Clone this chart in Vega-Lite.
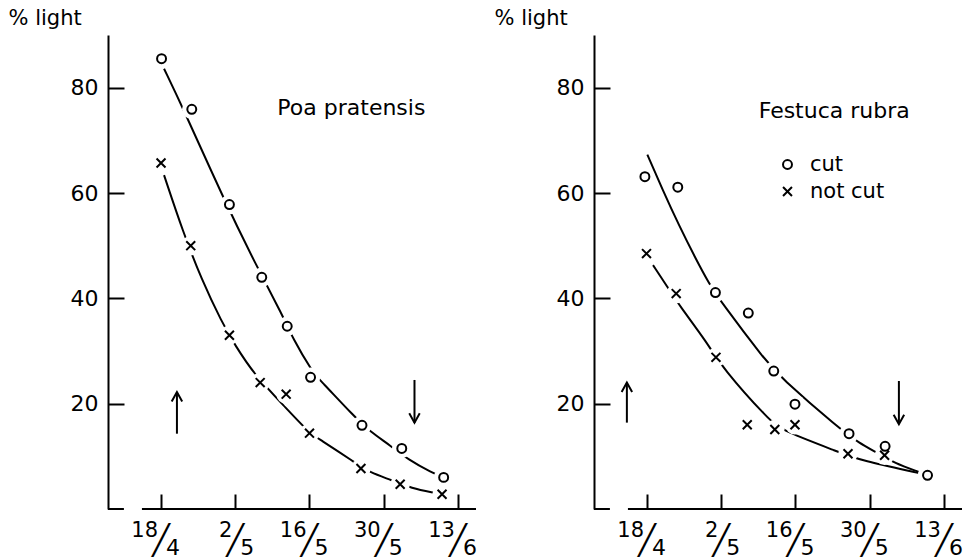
{
  "$schema": "https://vega.github.io/schema/vega-lite/v6.json",
  "autosize": {"type": "none"},
  "padding": {"left": 108, "top": 35, "right": 864, "bottom": 525},
  "background": "white",
  "config": {
    "font": "DejaVu Sans",
    "view": {"stroke": null},
    "axis": {"grid": false, "domainColor": "black", "domainWidth": 2, "tickColor": "black", "tickWidth": 2, "labelColor": "black", "labelFontSize": 22, "titleColor": "black", "titleFontWeight": "normal", "titleFontSize": 21}
  },
  "bounds": "flush",
  "spacing": 118,
  "datasets": {
    "points": [
      {"panel": "Poa pratensis", "treatment": "cut", "day": 0.1, "light": 85.5},
      {"panel": "Poa pratensis", "treatment": "cut", "day": 5.8, "light": 75.9},
      {"panel": "Poa pratensis", "treatment": "cut", "day": 12.9, "light": 57.8},
      {"panel": "Poa pratensis", "treatment": "cut", "day": 19.0, "light": 44.0},
      {"panel": "Poa pratensis", "treatment": "cut", "day": 23.8, "light": 34.7},
      {"panel": "Poa pratensis", "treatment": "cut", "day": 28.2, "light": 25.0},
      {"panel": "Poa pratensis", "treatment": "cut", "day": 37.9, "light": 15.9},
      {"panel": "Poa pratensis", "treatment": "cut", "day": 45.4, "light": 11.5},
      {"panel": "Poa pratensis", "treatment": "cut", "day": 53.3, "light": 6.0},
      {"panel": "Poa pratensis", "treatment": "not cut", "day": 0.0, "light": 65.7},
      {"panel": "Poa pratensis", "treatment": "not cut", "day": 5.6, "light": 50.0},
      {"panel": "Poa pratensis", "treatment": "not cut", "day": 12.9, "light": 33.0},
      {"panel": "Poa pratensis", "treatment": "not cut", "day": 18.7, "light": 24.0},
      {"panel": "Poa pratensis", "treatment": "not cut", "day": 23.6, "light": 21.8},
      {"panel": "Poa pratensis", "treatment": "not cut", "day": 28.0, "light": 14.4},
      {"panel": "Poa pratensis", "treatment": "not cut", "day": 37.7, "light": 7.7},
      {"panel": "Poa pratensis", "treatment": "not cut", "day": 45.1, "light": 4.7},
      {"panel": "Poa pratensis", "treatment": "not cut", "day": 53.0, "light": 2.8},
      {"panel": "Festuca rubra", "treatment": "cut", "day": -0.4, "light": 63.1},
      {"panel": "Festuca rubra", "treatment": "cut", "day": 5.8, "light": 61.1},
      {"panel": "Festuca rubra", "treatment": "cut", "day": 12.9, "light": 41.1},
      {"panel": "Festuca rubra", "treatment": "cut", "day": 19.1, "light": 37.2},
      {"panel": "Festuca rubra", "treatment": "cut", "day": 23.9, "light": 26.2},
      {"panel": "Festuca rubra", "treatment": "cut", "day": 27.9, "light": 19.9},
      {"panel": "Festuca rubra", "treatment": "cut", "day": 38.1, "light": 14.3},
      {"panel": "Festuca rubra", "treatment": "cut", "day": 44.9, "light": 11.9},
      {"panel": "Festuca rubra", "treatment": "cut", "day": 52.9, "light": 6.4},
      {"panel": "Festuca rubra", "treatment": "not cut", "day": -0.1, "light": 48.5},
      {"panel": "Festuca rubra", "treatment": "not cut", "day": 5.5, "light": 40.9},
      {"panel": "Festuca rubra", "treatment": "not cut", "day": 13.0, "light": 28.8},
      {"panel": "Festuca rubra", "treatment": "not cut", "day": 18.9, "light": 16.0},
      {"panel": "Festuca rubra", "treatment": "not cut", "day": 24.1, "light": 15.1},
      {"panel": "Festuca rubra", "treatment": "not cut", "day": 27.9, "light": 16.0},
      {"panel": "Festuca rubra", "treatment": "not cut", "day": 37.9, "light": 10.5},
      {"panel": "Festuca rubra", "treatment": "not cut", "day": 44.8, "light": 10.2}
    ],
    "curves": [
      {"panel": "Poa pratensis", "treatment": "cut", "day": 0.57, "light": 83.6},
      {"panel": "Poa pratensis", "treatment": "cut", "day": 4.2, "light": 76.0},
      {"panel": "Poa pratensis", "treatment": "cut", "day": 11.75, "light": 59.0},
      {"panel": "Poa pratensis", "treatment": "cut", "day": 18.06, "light": 46.0},
      {"panel": "Poa pratensis", "treatment": "cut", "day": 23.08, "light": 36.5},
      {"panel": "Poa pratensis", "treatment": "cut", "day": 24.66, "light": 32.7},
      {"panel": "Poa pratensis", "treatment": "cut", "day": 28.74, "light": 25.7},
      {"panel": "Poa pratensis", "treatment": "cut", "day": 30.0, "light": 24.5},
      {"panel": "Poa pratensis", "treatment": "cut", "day": 36.4, "light": 17.6},
      {"panel": "Poa pratensis", "treatment": "cut", "day": 39.4, "light": 14.7},
      {"panel": "Poa pratensis", "treatment": "cut", "day": 43.2, "light": 12.1},
      {"panel": "Poa pratensis", "treatment": "cut", "day": 46.7, "light": 9.3},
      {"panel": "Poa pratensis", "treatment": "cut", "day": 51.1, "light": 6.9},
      {"panel": "Poa pratensis", "treatment": "cut", "day": 53.3, "light": 6.0},
      {"panel": "Poa pratensis", "treatment": "not cut", "day": 0.57, "light": 63.4},
      {"panel": "Poa pratensis", "treatment": "not cut", "day": 4.15, "light": 52.6},
      {"panel": "Poa pratensis", "treatment": "not cut", "day": 7.68, "light": 43.5},
      {"panel": "Poa pratensis", "treatment": "not cut", "day": 11.45, "light": 35.5},
      {"panel": "Poa pratensis", "treatment": "not cut", "day": 13.96, "light": 31.1},
      {"panel": "Poa pratensis", "treatment": "not cut", "day": 17.7, "light": 25.4},
      {"panel": "Poa pratensis", "treatment": "not cut", "day": 23.08, "light": 19.7},
      {"panel": "Poa pratensis", "treatment": "not cut", "day": 27.98, "light": 14.4},
      {"panel": "Poa pratensis", "treatment": "not cut", "day": 29.7, "light": 13.4},
      {"panel": "Poa pratensis", "treatment": "not cut", "day": 36.6, "light": 8.8},
      {"panel": "Poa pratensis", "treatment": "not cut", "day": 39.4, "light": 6.9},
      {"panel": "Poa pratensis", "treatment": "not cut", "day": 43.5, "light": 5.5},
      {"panel": "Poa pratensis", "treatment": "not cut", "day": 47.3, "light": 3.9},
      {"panel": "Poa pratensis", "treatment": "not cut", "day": 51.4, "light": 3.1},
      {"panel": "Poa pratensis", "treatment": "not cut", "day": 53.0, "light": 2.8},
      {"panel": "Festuca rubra", "treatment": "cut", "day": 0.06, "light": 67.3},
      {"panel": "Festuca rubra", "treatment": "cut", "day": 2.9, "light": 60.7},
      {"panel": "Festuca rubra", "treatment": "cut", "day": 6.05, "light": 53.8},
      {"panel": "Festuca rubra", "treatment": "cut", "day": 9.2, "light": 47.5},
      {"panel": "Festuca rubra", "treatment": "cut", "day": 11.7, "light": 42.8},
      {"panel": "Festuca rubra", "treatment": "cut", "day": 13.9, "light": 39.4},
      {"panel": "Festuca rubra", "treatment": "cut", "day": 22.4, "light": 28.1},
      {"panel": "Festuca rubra", "treatment": "cut", "day": 24.95, "light": 25.2},
      {"panel": "Festuca rubra", "treatment": "cut", "day": 36.3, "light": 15.2},
      {"panel": "Festuca rubra", "treatment": "cut", "day": 40.1, "light": 12.5},
      {"panel": "Festuca rubra", "treatment": "cut", "day": 43.2, "light": 10.8},
      {"panel": "Festuca rubra", "treatment": "cut", "day": 46.7, "light": 8.7},
      {"panel": "Festuca rubra", "treatment": "cut", "day": 51.4, "light": 7.0},
      {"panel": "Festuca rubra", "treatment": "cut", "day": 52.9, "light": 6.4},
      {"panel": "Festuca rubra", "treatment": "not cut", "day": 1.13, "light": 46.3},
      {"panel": "Festuca rubra", "treatment": "not cut", "day": 3.84, "light": 42.2},
      {"panel": "Festuca rubra", "treatment": "not cut", "day": 6.05, "light": 38.7},
      {"panel": "Festuca rubra", "treatment": "not cut", "day": 11.4, "light": 31.5},
      {"panel": "Festuca rubra", "treatment": "not cut", "day": 14.2, "light": 26.8},
      {"panel": "Festuca rubra", "treatment": "not cut", "day": 23.1, "light": 16.8},
      {"panel": "Festuca rubra", "treatment": "not cut", "day": 25.5, "light": 14.9},
      {"panel": "Festuca rubra", "treatment": "not cut", "day": 36.2, "light": 10.8},
      {"panel": "Festuca rubra", "treatment": "not cut", "day": 40.3, "light": 9.2},
      {"panel": "Festuca rubra", "treatment": "not cut", "day": 51.9, "light": 6.7},
      {"panel": "Festuca rubra", "treatment": "not cut", "day": 52.9, "light": 6.4}
    ],
    "arrows": [
      {"panel": "Poa pratensis", "dir": "up", "day": 3.0, "from": 14.3, "to": 22.2},
      {"panel": "Poa pratensis", "dir": "down", "day": 47.8, "from": 24.5, "to": 16.4},
      {"panel": "Festuca rubra", "dir": "up", "day": -3.8, "from": 16.4, "to": 24.0},
      {"panel": "Festuca rubra", "dir": "down", "day": 47.5, "from": 24.3, "to": 16.1}
    ],
    "dates": [
      {"day": 0, "num": "18", "den": "4"},
      {"day": 14, "num": "2", "den": "5"},
      {"day": 28, "num": "16", "den": "5"},
      {"day": 42, "num": "30", "den": "5"},
      {"day": 56, "num": "13", "den": "6"}
    ]
  },
  "hconcat": [
    {
      "width": 368,
      "height": 474,
      "layer": [
        {
          "data": {"values": [{}]},
          "mark": {"type": "rule", "color": "black", "strokeWidth": 2},
          "encoding": {
            "x": {"datum": -3.6, "type": "quantitative", "scale": {"domain": [-10, 59.4], "nice": false, "zero": false}},
            "x2": {"datum": 59.4},
            "y": {"datum": 0, "type": "quantitative", "scale": {"domain": [0, 90], "nice": false}}
          }
        },
        {
          "data": {"values": [{}]},
          "mark": {"type": "rule", "color": "black", "strokeWidth": 2},
          "encoding": {
            "x": {"datum": -10, "type": "quantitative"},
            "x2": {"datum": -7},
            "y": {"datum": 0, "type": "quantitative"}
          }
        },
        {
          "data": {"name": "curves"},
          "transform": [{"filter": "datum.panel === 'Poa pratensis'"}],
          "mark": {"type": "line", "color": "black", "strokeWidth": 2, "interpolate": "basis"},
          "encoding": {
            "x": {"field": "day", "type": "quantitative"},
            "y": {"field": "light", "type": "quantitative"},
            "detail": {"field": "treatment"}
          }
        },
        {
          "data": {"name": "points"},
          "transform": [{"filter": "datum.panel === 'Poa pratensis'"}],
          "mark": {"type": "circle", "color": "white", "size": 380, "opacity": 1},
          "encoding": {
            "x": {"field": "day", "type": "quantitative"},
            "y": {"field": "light", "type": "quantitative"}
          }
        },
        {
          "data": {"name": "points"},
          "transform": [{"filter": "datum.panel === 'Poa pratensis'"}],
          "mark": {"type": "point", "filled": false, "color": "black", "strokeWidth": 2, "size": 80, "opacity": 1},
          "encoding": {
            "x": {"field": "day", "type": "quantitative", "axis": {"values": [0, 14, 28, 42, 56], "tickSize": -15, "labels": false, "domain": false, "title": null}},
            "y": {"field": "light", "type": "quantitative", "axis": {"values": [20, 40, 60, 80], "tickSize": -16, "labelPadding": 26, "title": "% light", "titleAngle": 0, "titleX": -100, "titleY": -11, "titleAlign": "left", "titleBaseline": "alphabetic"}},
            "shape": {"field": "treatment", "type": "nominal", "scale": {"domain": ["cut", "not cut"], "range": ["circle", "M-1,-1L1,1M-1,1L1,-1"]}, "legend": null}
          }
        },
        {
          "data": {"name": "arrows"},
          "transform": [{"filter": "datum.panel === 'Poa pratensis'"}],
          "mark": {"type": "rule", "color": "black", "strokeWidth": 2},
          "encoding": {
            "x": {"field": "day", "type": "quantitative"},
            "y": {"field": "from", "type": "quantitative"},
            "y2": {"field": "to"}
          }
        },
        {
          "data": {"name": "arrows"},
          "transform": [{"filter": "datum.panel === 'Poa pratensis' && datum.dir === 'up'"}],
          "mark": {"type": "point", "shape": "M-1,1.8L0,0L1,1.8", "filled": false, "color": "black", "strokeWidth": 2, "size": 110, "opacity": 1},
          "encoding": {
            "x": {"field": "day", "type": "quantitative"},
            "y": {"field": "to", "type": "quantitative"}
          }
        },
        {
          "data": {"name": "arrows"},
          "transform": [{"filter": "datum.panel === 'Poa pratensis' && datum.dir === 'down'"}],
          "mark": {"type": "point", "shape": "M-1,-1.8L0,0L1,-1.8", "filled": false, "color": "black", "strokeWidth": 2, "size": 110, "opacity": 1},
          "encoding": {
            "x": {"field": "day", "type": "quantitative"},
            "y": {"field": "to", "type": "quantitative"}
          }
        },
        {
          "data": {"values": [{}]},
          "mark": {"type": "text", "text": "Poa pratensis", "fontSize": 22, "align": "center", "baseline": "alphabetic", "color": "black"},
          "encoding": {
            "x": {"datum": 35.9, "type": "quantitative"},
            "y": {"datum": 74.8, "type": "quantitative"}
          }
        },
        {
          "data": {"name": "dates"},
          "mark": {"type": "text", "fontSize": 21, "align": "right", "baseline": "alphabetic", "dx": -3, "dy": 28, "color": "black"},
          "encoding": {
            "x": {"field": "day", "type": "quantitative"},
            "y": {"datum": 0, "type": "quantitative"},
            "text": {"field": "num"}
          }
        },
        {
          "data": {"name": "dates"},
          "mark": {"type": "text", "text": "╱", "font": "DejaVu Sans Mono", "fontSize": 29, "align": "center", "baseline": "alphabetic", "dy": 41, "color": "black"},
          "encoding": {
            "x": {"field": "day", "type": "quantitative"},
            "y": {"datum": 0, "type": "quantitative"}
          }
        },
        {
          "data": {"name": "dates"},
          "mark": {"type": "text", "fontSize": 22, "align": "left", "baseline": "alphabetic", "dx": 5, "dy": 46, "color": "black"},
          "encoding": {
            "x": {"field": "day", "type": "quantitative"},
            "y": {"datum": 0, "type": "quantitative"},
            "text": {"field": "den"}
          }
        }
      ]
    },
    {
      "width": 368,
      "height": 474,
      "layer": [
        {
          "data": {"values": [{}]},
          "mark": {"type": "rule", "color": "black", "strokeWidth": 2},
          "encoding": {
            "x": {"datum": -3.6, "type": "quantitative", "scale": {"domain": [-10, 59.4], "nice": false, "zero": false}},
            "x2": {"datum": 59.4},
            "y": {"datum": 0, "type": "quantitative", "scale": {"domain": [0, 90], "nice": false}}
          }
        },
        {
          "data": {"values": [{}]},
          "mark": {"type": "rule", "color": "black", "strokeWidth": 2},
          "encoding": {
            "x": {"datum": -10, "type": "quantitative"},
            "x2": {"datum": -7},
            "y": {"datum": 0, "type": "quantitative"}
          }
        },
        {
          "data": {"name": "curves"},
          "transform": [{"filter": "datum.panel === 'Festuca rubra'"}],
          "mark": {"type": "line", "color": "black", "strokeWidth": 2, "interpolate": "basis"},
          "encoding": {
            "x": {"field": "day", "type": "quantitative"},
            "y": {"field": "light", "type": "quantitative"},
            "detail": {"field": "treatment"}
          }
        },
        {
          "data": {"name": "points"},
          "transform": [{"filter": "datum.panel === 'Festuca rubra'"}],
          "mark": {"type": "circle", "color": "white", "size": 380, "opacity": 1},
          "encoding": {
            "x": {"field": "day", "type": "quantitative"},
            "y": {"field": "light", "type": "quantitative"}
          }
        },
        {
          "data": {"name": "points"},
          "transform": [{"filter": "datum.panel === 'Festuca rubra'"}],
          "mark": {"type": "point", "filled": false, "color": "black", "strokeWidth": 2, "size": 80, "opacity": 1},
          "encoding": {
            "x": {"field": "day", "type": "quantitative", "axis": {"values": [0, 14, 28, 42, 56], "tickSize": -15, "labels": false, "domain": false, "title": null}},
            "y": {"field": "light", "type": "quantitative", "axis": {"values": [20, 40, 60, 80], "tickSize": -16, "labelPadding": 26, "title": "% light", "titleAngle": 0, "titleX": -100, "titleY": -11, "titleAlign": "left", "titleBaseline": "alphabetic"}},
            "shape": {"field": "treatment", "type": "nominal", "scale": {"domain": ["cut", "not cut"], "range": ["circle", "M-1,-1L1,1M-1,1L1,-1"]},
              "legend": {"orient": "none", "legendX": 183, "legendY": 119, "title": null, "symbolSize": 80, "symbolStrokeWidth": 2, "symbolStrokeColor": "black", "symbolFillColor": "transparent", "labelFontSize": 21, "labelColor": "black", "labelOffset": 12, "rowPadding": 5, "padding": 0}}
          }
        },
        {
          "data": {"name": "arrows"},
          "transform": [{"filter": "datum.panel === 'Festuca rubra'"}],
          "mark": {"type": "rule", "color": "black", "strokeWidth": 2},
          "encoding": {
            "x": {"field": "day", "type": "quantitative"},
            "y": {"field": "from", "type": "quantitative"},
            "y2": {"field": "to"}
          }
        },
        {
          "data": {"name": "arrows"},
          "transform": [{"filter": "datum.panel === 'Festuca rubra' && datum.dir === 'up'"}],
          "mark": {"type": "point", "shape": "M-1,1.8L0,0L1,1.8", "filled": false, "color": "black", "strokeWidth": 2, "size": 110, "opacity": 1},
          "encoding": {
            "x": {"field": "day", "type": "quantitative"},
            "y": {"field": "to", "type": "quantitative"}
          }
        },
        {
          "data": {"name": "arrows"},
          "transform": [{"filter": "datum.panel === 'Festuca rubra' && datum.dir === 'down'"}],
          "mark": {"type": "point", "shape": "M-1,-1.8L0,0L1,-1.8", "filled": false, "color": "black", "strokeWidth": 2, "size": 110, "opacity": 1},
          "encoding": {
            "x": {"field": "day", "type": "quantitative"},
            "y": {"field": "to", "type": "quantitative"}
          }
        },
        {
          "data": {"values": [{}]},
          "mark": {"type": "text", "text": "Festuca rubra", "fontSize": 22, "align": "center", "baseline": "alphabetic", "color": "black"},
          "encoding": {
            "x": {"datum": 35.3, "type": "quantitative"},
            "y": {"datum": 74.2, "type": "quantitative"}
          }
        },
        {
          "data": {"name": "dates"},
          "mark": {"type": "text", "fontSize": 21, "align": "right", "baseline": "alphabetic", "dx": -3, "dy": 28, "color": "black"},
          "encoding": {
            "x": {"field": "day", "type": "quantitative"},
            "y": {"datum": 0, "type": "quantitative"},
            "text": {"field": "num"}
          }
        },
        {
          "data": {"name": "dates"},
          "mark": {"type": "text", "text": "╱", "font": "DejaVu Sans Mono", "fontSize": 29, "align": "center", "baseline": "alphabetic", "dy": 41, "color": "black"},
          "encoding": {
            "x": {"field": "day", "type": "quantitative"},
            "y": {"datum": 0, "type": "quantitative"}
          }
        },
        {
          "data": {"name": "dates"},
          "mark": {"type": "text", "fontSize": 22, "align": "left", "baseline": "alphabetic", "dx": 5, "dy": 46, "color": "black"},
          "encoding": {
            "x": {"field": "day", "type": "quantitative"},
            "y": {"datum": 0, "type": "quantitative"},
            "text": {"field": "den"}
          }
        }
      ]
    }
  ],
  "resolve": {"scale": {"shape": "independent"}, "legend": {"shape": "independent"}}
}
